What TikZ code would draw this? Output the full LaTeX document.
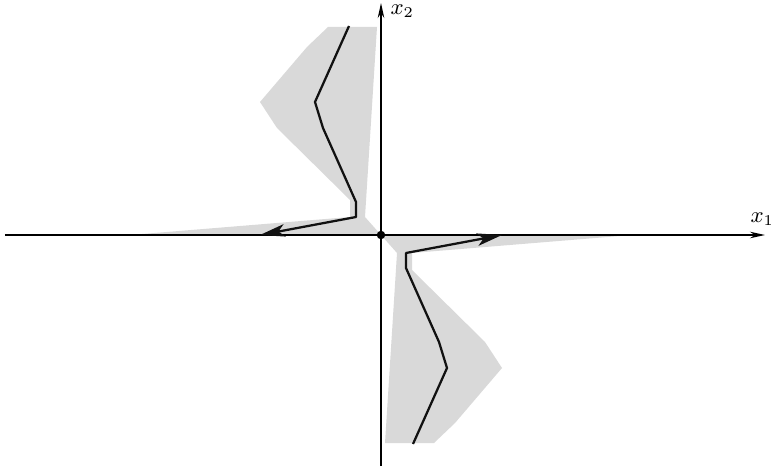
\documentclass[tikz,border=0pt]{standalone}
\usepackage{amsmath,amssymb}
\usepackage{tikz}
\usetikzlibrary{arrows.meta}
\usepackage{xcolor}
\definecolor{TubeGray}{HTML}{D9D9D9}
\definecolor{PathBlack}{HTML}{111111}

\begin{document}
\begin{tikzpicture}[>=Stealth,x=0.4pt,y=0.4pt,
    axislabel/.style={anchor=base west,inner sep=0pt,font=\fontsize{9}{11}\selectfont}]
  \useasboundingbox (-381,-231) rectangle (390,235);
  \fill[TubeGray] (-251,0) -- (-31,18) -- (-31,35) -- (-104,107) -- (-121,133)
    -- (-74,188) -- (-53,208) -- (-4,208) -- (-16,18) -- (0,0) -- cycle;
  \fill[TubeGray] (251,0) -- (31,-18) -- (31,-35) -- (104,-107) -- (121,-133)
    -- (74,-188) -- (53,-208) -- (4,-208) -- (16,-18) -- (0,0) -- cycle;
  \draw[-{Stealth[length=6pt,width=2.6pt]},line width=0.5pt] (-376,0) -- (384,0);
  \draw[-{Stealth[length=6pt,width=2.6pt]},line width=0.5pt] (0,-231) -- (0,232);
  \node[axislabel] (xa) at (369,12) {$x_1$};
  \node[axislabel] (ya) at (9,220) {$x_2$};
  \draw[-{Stealth[length=10pt,width=5pt,inset=2.5pt]},line width=0.9pt,PathBlack,line join=round]
    (-32,209) -- (-66,133) -- (-58,107) -- (-25,33) -- (-25,18) -- (-121,0);
  \draw[-{Stealth[length=10pt,width=5pt,inset=2.5pt]},line width=0.9pt,PathBlack,line join=round]
    (32,-209) -- (66,-133) -- (58,-107) -- (25,-33) -- (25,-18) -- (121,0);
  \fill (0,0) circle (1.7pt) coordinate (O);
\end{tikzpicture}
\end{document}
